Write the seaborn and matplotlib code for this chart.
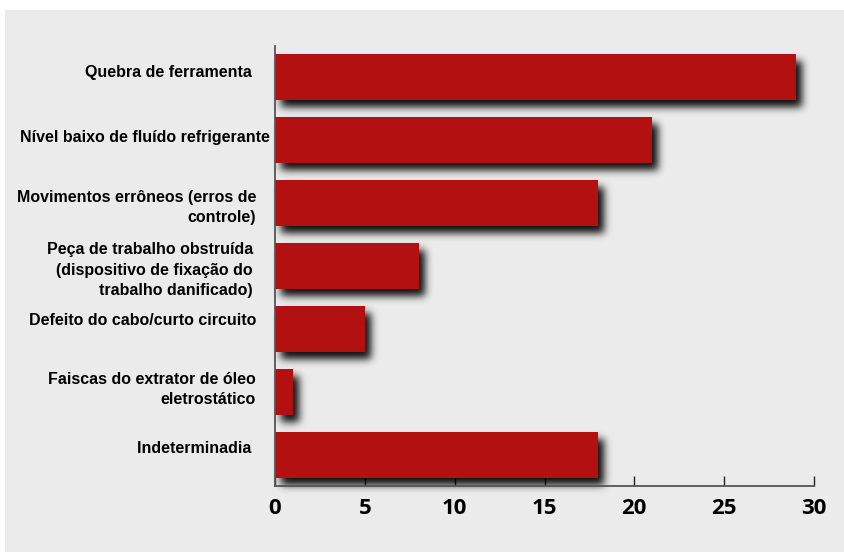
import numpy as np
import matplotlib
matplotlib.use("Agg")
import matplotlib.pyplot as plt
import matplotlib.transforms as mtransforms
from matplotlib.patches import Rectangle
import seaborn as sns

# Causes of machine-tool failures (number of occurrences)
causes = [
    "Quebra de ferramenta ",
    "Nível baixo de fluído refrigerante",
    "Movimentos errôneos (erros de\ncontrole)",
    "Peça de trabalho obstruída\n(dispositivo de fixação do\ntrabalho danificado)",
    "Defeito do cabo/curto circuito",
    "Faiscas do extrator de óleo\neletrostático",
    "Indeterminadia ",
]
occurrences = [29, 21, 18, 8, 5, 1, 18]
x_ticks = [0, 5, 10, 15, 20, 25, 30]

BAR_COLOR = "#b31111"
BG_COLOR = "#ebebeb"
W, H = 845, 552
DPI = 100


class DropShadow:
    """agg_filter: blurred, offset black copy of the artist's alpha mask."""

    def __init__(self, sigma_px=4.0, alpha=0.95, offset_px=(6, 7)):
        self.sigma = sigma_px
        self.alpha = alpha
        self.dx, self.dy = offset_px

    def _blur(self, a):
        r = int(np.ceil(self.sigma * 3))
        k = np.exp(-0.5 * (np.arange(-r, r + 1) / self.sigma) ** 2)
        k /= k.sum()
        a = np.apply_along_axis(lambda v: np.convolve(v, k, mode="same"), 0, a)
        a = np.apply_along_axis(lambda v: np.convolve(v, k, mode="same"), 1, a)
        return a

    def __call__(self, im, dpi):
        pad = int(np.ceil(self.sigma * 3)) + max(self.dx, self.dy) + 2
        src = np.pad(im, [(pad, pad), (pad, pad), (0, 0)], "constant")
        a = src[:, :, 3]
        a = np.roll(a, self.dx, axis=1)
        a = np.roll(a, self.dy, axis=0)
        a = self._blur(a) * self.alpha
        out = np.zeros_like(src)
        out[:, :, 3] = np.clip(a, 0, 1)
        return out, -pad, -pad


sns.set_style("white")
plt.rcParams["font.family"] = ["Liberation Sans", "DejaVu Sans"]

fig = plt.figure(figsize=(W / DPI, H / DPI), dpi=DPI, facecolor="white")
# gray panel behind the chart
fig.patches.append(Rectangle((5 / W, 0), 1 - 5 / W, 1 - 10 / H,
                             transform=fig.transFigure, facecolor=BG_COLOR,
                             edgecolor="none", zorder=-10))

ax = fig.add_axes([275 / W, 1 - 486 / H, (814 - 275) / W, (486 - 46) / H])
ax.set_facecolor("none")
ax.set_zorder(1)

sns.barplot(x=occurrences, y=list(range(len(causes))), orient="h",
            color=BAR_COLOR, saturation=1, width=0.73, ax=ax)

# drop shadows under each bar
for p in list(ax.patches):
    p.set_edgecolor("none")
    p.set_zorder(3)
    sh = Rectangle(p.get_xy(), p.get_width(), p.get_height(),
                   facecolor="black", edgecolor="none", zorder=2,
                   clip_on=False)
    sh.set_agg_filter(DropShadow())
    ax.add_patch(sh)

ax.set_xlim(0, 30)
ax.set_ylim(len(causes) - 0.5, -0.5)
ax.set_xticks(x_ticks)
ax.set_xticklabels([str(t) for t in x_ticks], fontfamily="Open Sans",
                   fontweight="bold", fontsize=16, color="black")
ax.tick_params(axis="x", direction="in", length=7.5, width=1.0,
               color="#222222", pad=9, bottom=True)
ax.set_yticks([])
ax.set_xlabel("")
ax.set_ylabel("")

for side in ("top", "right"):
    ax.spines[side].set_visible(False)
for side in ("left", "bottom"):
    ax.spines[side].set_color("#555555")
    ax.spines[side].set_linewidth(1.3)
    ax.spines[side].set_zorder(4)

# category labels, right-aligned left of the axis
label_shift = [(0, 5), (14, 3), (0, -4), (-3, -4), (0, 8), (0, 2), (0, 6)]
base = mtransforms.blended_transform_factory(ax.transAxes, ax.transData)
for i, (txt, (dx, dy)) in enumerate(zip(causes, label_shift)):
    tr = base + mtransforms.ScaledTranslation(dx / DPI, dy / DPI,
                                              fig.dpi_scale_trans)
    ax.text(-19 / (814 - 275), i, txt, transform=tr, ha="right",
            va="center", ma="right", fontsize=11.5, fontweight="bold",
            color="black", linespacing=1.42)

fig.savefig("out.png", dpi=DPI, facecolor="white")
